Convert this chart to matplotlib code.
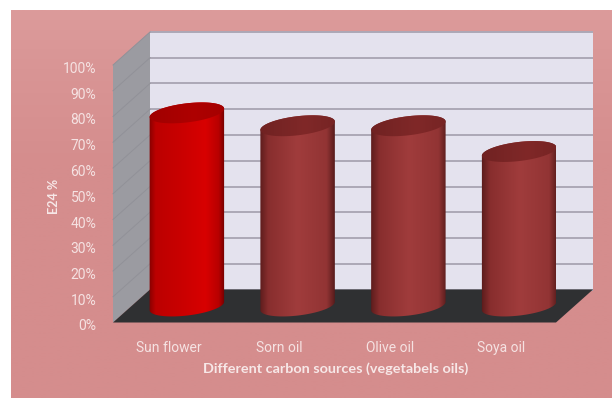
import numpy as np
import matplotlib
matplotlib.use("Agg")
import matplotlib.pyplot as plt
from matplotlib.colors import LinearSegmentedColormap
from matplotlib.patches import Polygon, PathPatch
from matplotlib.path import Path
from matplotlib.ticker import PercentFormatter
from matplotlib.transforms import ScaledTranslation

# Emulsification index per vegetable oil
categories = ["Sun flower", "Sorn oil", "Olive oil", "Soya oil"]
e24_values = [75, 70, 70, 60]
y_ticks = list(range(0, 101, 10))
x_title = "Different carbon sources (vegetabels oils)"
y_title = "E24 %"

W, H = 612, 398
LEFT, RIGHT, BASE, TOP = 113, 556, 322.5, 65
DEPTH_X, DEPTH_Y = 37, 33          # pseudo-3D box depth, in pixels
A, TILT = 37.5, 4.5                # cylinder half-width, rise of ellipse ends
MINOR = 9.5

fig = plt.figure(figsize=(W / 100, H / 100), dpi=100, facecolor="white")

# Card behind the chart, fading slightly lighter towards the top edge
bg = fig.add_axes([0, 0, 1, 1], zorder=0)
card = LinearSegmentedColormap.from_list("card", [(0, "#DC9B9B"), (0.15, "#D99595"), (0.4, "#D58D8D"), (1, "#D58D8D")])
bg.imshow(np.linspace(0, 1, 256)[:, None], cmap=card, extent=[11, W, H, 10], aspect="auto", interpolation="bilinear")
bg.set_xlim(0, W)
bg.set_ylim(H, 0)
bg.axis("off")

ax = fig.add_axes([LEFT / W, (H - BASE) / H, (RIGHT - LEFT) / W, (BASE - TOP) / H], zorder=1)
ax.patch.set_alpha(0)
XMIN, XMAX, YMIN, YMAX = -0.5, 3.5, 0, 100
ux = (RIGHT - LEFT) / (XMAX - XMIN)
uy = (BASE - TOP) / (YMAX - YMIN)
dx, dy = DEPTH_X / ux, DEPTH_Y / uy

# Back wall, side wall and floor of the box
ax.add_patch(Polygon([(XMIN + dx, dy), (XMAX + dx, dy), (XMAX + dx, 100 + dy), (XMIN + dx, 100 + dy)],
                     fc="#E4E2EE", ec="none", clip_on=False, zorder=1))
ax.add_patch(Polygon([(XMIN, 0), (XMIN + dx, dy), (XMIN + dx, 100 + dy), (XMIN, 100)],
                     fc="#9B9BA1", ec="none", clip_on=False, zorder=1))
ax.add_patch(Polygon([(XMIN, 0), (XMAX, 0), (XMAX + dx, dy), (XMIN + dx, dy)],
                     fc="#2F3032", ec="none", clip_on=False, zorder=2))
for t in y_ticks:
    ax.plot([XMIN + dx, XMAX + dx], [t + dy, t + dy], color="#ACA8B6", lw=1.4,
            clip_on=False, zorder=1.5, solid_capstyle="butt")
    if t > 0:
        ax.plot([XMIN, XMIN + dx], [t, t + dy], color="#919198", lw=0.7, clip_on=False, zorder=1.5)

body_red = LinearSegmentedColormap.from_list("body_red", [
    (0, "#7E0000"), (0.1, "#BC0000"), (0.4, "#C80000"), (0.75, "#D80000"), (0.92, "#B80000"), (1, "#700000")])
top_red = LinearSegmentedColormap.from_list("top_red", [(0, "#A00000"), (0.6, "#AE0000"), (1, "#A40000")])
body_brown = LinearSegmentedColormap.from_list("body_brown", [
    (0, "#581A1A"), (0.12, "#882E2E"), (0.5, "#A03C3C"), (0.88, "#923434"), (1, "#501818")])
top_brown = LinearSegmentedColormap.from_list("top_brown", [(0, "#702222"), (0.6, "#802828"), (1, "#762424")])
ramp = np.linspace(0, 1, 256)[None, :]


def ellipse(xc, yc, start, stop, n=80):
    """Tilted elliptical arc around a data-space centre; returns data coordinates."""
    t = np.radians(np.linspace(start, stop, n))
    theta = np.arcsin(TILT / A)
    px = A * np.cos(t) * np.cos(theta) - MINOR * np.sin(t) * np.sin(theta)
    py = A * np.cos(t) * np.sin(theta) + MINOR * np.sin(t) * np.cos(theta)
    return np.column_stack([xc + px / ux, yc + py / uy])


def shaded(path, cmap, x0, x1, y0, y1, z):
    im = ax.imshow(ramp, cmap=cmap, extent=[x0, x1, y0, y1], aspect="auto", zorder=z,
                   interpolation="bilinear", vmin=0, vmax=1)
    im.set_clip_path(PathPatch(path, transform=ax.transData))


# Cylinders stand halfway into the box depth
for i, (name, value) in enumerate(zip(categories, e24_values)):
    xc, yb = i + dx / 2, dy / 2
    yt = yb + value
    hw = (A + 1) / ux
    highlighted = i == 0
    lower = ellipse(xc, yb, 180, 360)
    upper = ellipse(xc, yt, 0, 180)
    outline = np.vstack([lower, upper, lower[:1]])
    shaded(Path(outline, closed=True), body_red if highlighted else body_brown,
           xc - hw, xc + hw, yb - 14 / uy, yt + 14 / uy, 3 + i * 0.1)
    cap = ellipse(xc, yt, 0, 360)
    shaded(Path(np.vstack([cap, cap[:1]]), closed=True), top_red if highlighted else top_brown,
           xc - hw, xc + hw, yt - 14 / uy, yt + 14 / uy, 3.05 + i * 0.1)

ax.set_xlim(XMIN, XMAX)
ax.set_ylim(YMIN, YMAX)
for spine in ax.spines.values():
    spine.set_visible(False)

sans = ["Roboto", "DejaVu Sans"]
label_color = "#F5E2E2"
ax.set_xticks(range(len(categories)), categories, family=sans, fontsize=10, color=label_color)
ax.set_yticks(y_ticks)
ax.yaxis.set_major_formatter(PercentFormatter(100, decimals=0))
ax.tick_params(axis="x", length=0, pad=13)
ax.tick_params(axis="y", length=0, pad=12)
shift = ScaledTranslation(0, -2.5 / 100, fig.dpi_scale_trans)
for lab in ax.get_yticklabels():
    lab.set_family(sans)
    lab.set_fontsize(10)
    lab.set_color(label_color)
    lab.set_transform(lab.get_transform() + shift)

fig.text(336 / W, 1 - 369 / H, x_title, family=["Lato", "DejaVu Sans"], fontweight="bold",
         fontsize=10.4, color="#F7E8E8", ha="center", va="center", zorder=3)
fig.text(54 / W, 1 - 196 / H, y_title, family=["Lato", "DejaVu Sans"], fontweight="bold",
         fontsize=9, color="#F7E8E8", ha="center", va="center", rotation=90, zorder=3)

fig.savefig("out.png", dpi=100, facecolor="white")
